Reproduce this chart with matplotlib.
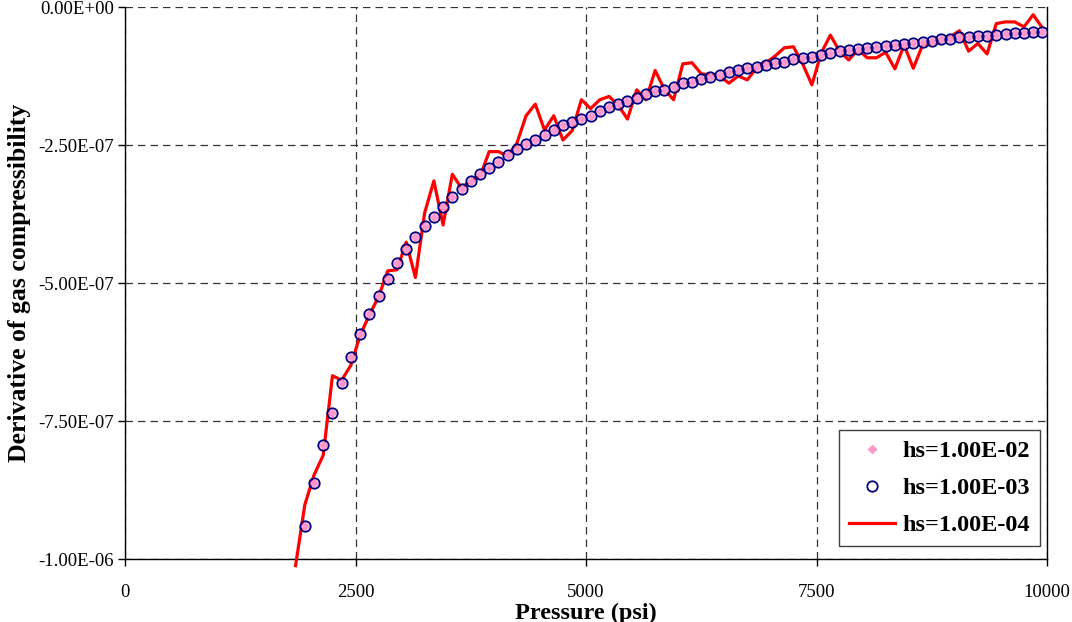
import matplotlib
matplotlib.use("Agg")
import matplotlib.pyplot as plt
from matplotlib.ticker import FuncFormatter

plt.rcParams['font.family'] = ['Liberation Serif', 'DejaVu Serif']

# pressure (psi) for the smooth series
p_smooth = [1950 + 100 * i for i in range(81)]

# derivative values, units of 1e-7 (hs=1.00E-03)
hs3 = [-9.40, -8.62, -7.93, -7.35, -6.82, -6.34, -5.93, -5.56, -5.23, -4.92,
       -4.64, -4.38, -4.16, -3.96, -3.80, -3.62, -3.45, -3.30, -3.15, -3.03,
       -2.91, -2.80, -2.69, -2.57, -2.48, -2.41, -2.32, -2.23, -2.14, -2.08,
       -2.02, -1.97, -1.88, -1.82, -1.76, -1.70, -1.64, -1.58, -1.53, -1.50,
       -1.45, -1.38, -1.36, -1.31, -1.26, -1.23, -1.18, -1.14, -1.11, -1.08,
       -1.05, -1.02, -0.99, -0.95, -0.93, -0.90, -0.87, -0.84, -0.80, -0.78,
       -0.76, -0.74, -0.72, -0.70, -0.69, -0.67, -0.65, -0.64, -0.61, -0.58,
       -0.58, -0.55, -0.54, -0.53, -0.52, -0.51, -0.49, -0.48, -0.47, -0.46,
       -0.45]
# hs=1.00E-02 sits on the same curve
hs2 = list(hs3)

# hs=1.00E-04 is noisy
p_noisy = [1850] + p_smooth
hs4 = [-10.12, -9.02, -8.48, -8.12, -6.68, -6.76, -6.49, -5.95, -5.58, -5.25,
       -4.78, -4.76, -4.26, -4.90, -3.73, -3.15, -3.95, -3.03, -3.28, -3.14,
       -3.07, -2.62, -2.62, -2.70, -2.47, -1.97, -1.76, -2.23, -1.97, -2.41,
       -2.24, -1.68, -1.84, -1.68, -1.62, -1.78, -2.03, -1.50, -1.68, -1.15,
       -1.49, -1.68, -1.03, -1.01, -1.21, -1.23, -1.25, -1.38, -1.25, -1.32,
       -1.10, -1.01, -0.89, -0.74, -0.72, -1.03, -1.41, -0.84, -0.51, -0.80,
       -0.96, -0.77, -0.92, -0.92, -0.82, -1.12, -0.69, -1.11, -0.69, -0.66,
       -0.63, -0.54, -0.43, -0.80, -0.66, -0.85, -0.30, -0.27, -0.27, -0.36,
       -0.14, -0.38]

scale = 1e-7
fig = plt.figure(figsize=(10.72, 6.22), dpi=100)
ax = fig.add_axes([125/1072, 1 - 559/622, 922/1072, 552/622])

ax.plot(p_noisy, [v * scale for v in hs4], color='red', lw=2.3,
        clip_on=False, zorder=3, label='hs=1.00E-04')
ax.plot(p_smooth, [v * scale for v in hs2], ls='none', marker='D', ms=5,
        color='#FF99CC', mec='none', zorder=4, label='hs=1.00E-02')
ax.plot(p_smooth, [v * scale for v in hs3], ls='none', marker='o', ms=7.5,
        mfc='none', mec='#000080', mew=1.3, zorder=5, label='hs=1.00E-03')

ax.set_xlim(0, 10000)
ax.set_ylim(-1e-6, 0)
ax.set_xticks([0, 2500, 5000, 7500, 10000])
ax.set_yticks([-1e-6, -7.5e-7, -5e-7, -2.5e-7, 0])
ax.yaxis.set_major_formatter(FuncFormatter(lambda v, pos: f"{v:.2E}" if abs(v) > 1e-12 else "0.00E+00"))
ax.tick_params(direction='out', length=5, width=1, labelsize=13.5, pad=3)
ax.tick_params(axis='x', pad=13)

ax.grid(True, color='#333333', ls=(0, (6, 4)), lw=0.9)
ax.spines['top'].set_visible(False)
for s in ['left', 'bottom', 'right']:
    ax.spines[s].set_linewidth(1.0)

ax.set_xlabel('Pressure (psi)', fontsize=17.5, fontweight='bold', labelpad=1)
ax.set_ylabel('Derivative of gas compressibility', fontsize=18.5, fontweight='bold', labelpad=5)

h, l = ax.get_legend_handles_labels()
order = [1, 2, 0]
leg = ax.legend([h[i] for i in order], [l[i] for i in order],
                loc='lower right', bbox_to_anchor=(0.9924, 0.0236), borderaxespad=0,
                prop={'size': 17.5, 'weight': 'bold'}, fancybox=False,
                edgecolor='#404040', framealpha=1, handlelength=1.9,
                handletextpad=0.3, labelspacing=0.62, borderpad=0.4)
leg.get_frame().set_linewidth(1.0)

fig.savefig('out.png', dpi=100)
